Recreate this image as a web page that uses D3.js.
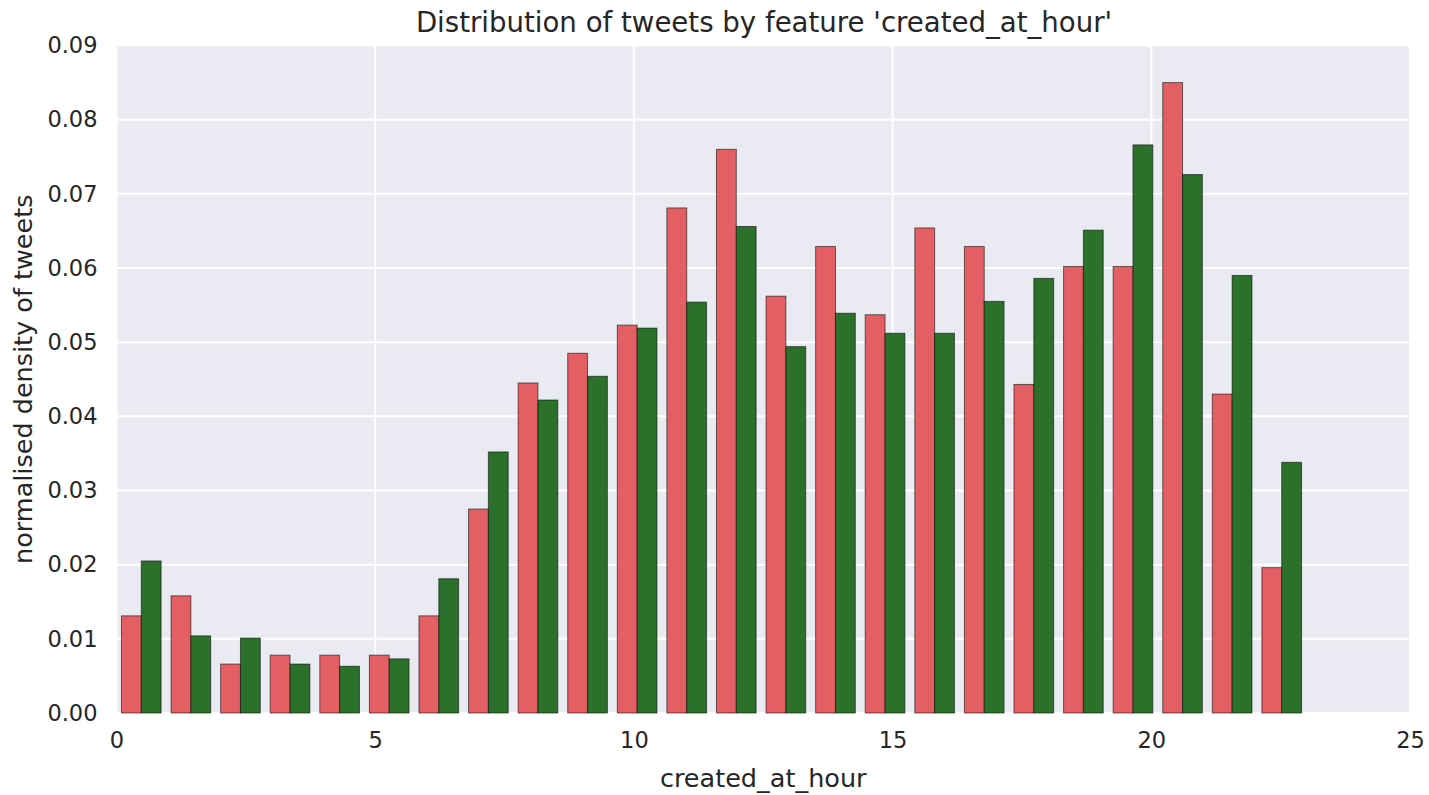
<!DOCTYPE html>
<html><head><meta charset="utf-8">
<script src="https://cdn.jsdelivr.net/npm/d3@7/dist/d3.min.js"></script>
<style>
body{margin:0;background:#fff}
text{font-family:"DejaVu Sans",sans-serif;fill:#262626}
</style>
</head><body>
<svg id="chart" width="1429" height="795"></svg>
<script>
// Histogram of tweet hours: 24 bins over range 0..23
const hours = [0,1,2,3,4,5,6,7,8,9,10,11,12,13,14,15,16,17,18,19,20,21,22,23];
const redValues = [0.0131,0.0158,0.0066,0.0078,0.0078,0.0078,0.0131,0.0275,0.0445,0.0485,0.0523,0.0681,0.0760,0.0562,0.0629,0.0537,0.0654,0.0629,0.0443,0.0602,0.0602,0.0850,0.0430,0.0196];
const greenValues = [0.0205,0.0104,0.0101,0.0066,0.0063,0.0073,0.0181,0.0352,0.0422,0.0454,0.0519,0.0554,0.0656,0.0494,0.0539,0.0512,0.0512,0.0555,0.0586,0.0651,0.0766,0.0726,0.0590,0.0338];
const xTicks = [0,5,10,15,20,25];
const yTicks = [0,0.01,0.02,0.03,0.04,0.05,0.06,0.07,0.08,0.09];
const histMin = 0, histMax = 23, nBins = 24;
const title = "Distribution of tweets by feature 'created_at_hour'";
const xLabel = "created_at_hour";
const yLabel = "normalised density of tweets";

const L = 116.5, R = 1410, T = 45.5, B = 713;
const svg = d3.select("#chart");
const x = d3.scaleLinear().domain([0,25]).range([L,R]);
const y = d3.scaleLinear().domain([0,0.09]).range([B,T]);
const bw = (histMax - histMin) / nBins;

svg.append("rect").attr("x",L).attr("y",T).attr("width",R-L).attr("height",B-T).attr("fill","#eaeaf2");

// grid
svg.append("g").selectAll("line").data(xTicks).join("line")
  .attr("x1",d=>x(d)).attr("x2",d=>x(d)).attr("y1",T).attr("y2",B)
  .attr("stroke","#fff").attr("stroke-width",2);
svg.append("g").selectAll("line").data(yTicks).join("line")
  .attr("x1",L).attr("x2",R).attr("y1",d=>y(d)).attr("y2",d=>y(d))
  .attr("stroke","#fff").attr("stroke-width",2);

// bars
const barW = x(0.4*bw) - x(0);
const series = [
  {vals: redValues, off: 0.1, color: "#e35f63"},
  {vals: greenValues, off: 0.5, color: "#2b702b"}
];
series.forEach(s => {
  svg.append("g").selectAll("rect").data(hours).join("rect")
    .attr("x", (h) => x(histMin + h*bw + s.off*bw))
    .attr("width", barW)
    .attr("y", (h,i) => y(s.vals[i]))
    .attr("height", (h,i) => y(0) - y(s.vals[i]))
    .attr("fill", s.color)
    .attr("stroke", "#000").attr("stroke-opacity", 0.55).attr("stroke-width", 1);
});

// axes
const xAxis = d3.axisBottom(x).tickValues(xTicks).tickFormat(d3.format("d")).tickSize(0).tickPadding(19);
const gx = svg.append("g").attr("transform",`translate(0,${B})`).call(xAxis);
gx.select(".domain").remove();
gx.selectAll("text").style("font-size","22.5px").style("font-family","DejaVu Sans").attr("fill","#262626");

const yAxis = d3.axisLeft(y).tickValues(yTicks).tickFormat(d3.format(".2f")).tickSize(0).tickPadding(19);
const gy = svg.append("g").attr("transform",`translate(${L},0)`).call(yAxis);
gy.select(".domain").remove();
gy.selectAll("text").style("font-size","22.5px").style("font-family","DejaVu Sans").attr("fill","#262626");

svg.append("text").attr("x",764).attr("y",32).attr("text-anchor","middle")
  .style("font-size","27.6px").text(title);
svg.append("text").attr("x",(L+R)/2).attr("y",787).attr("text-anchor","middle")
  .style("font-size","25.5px").text(xLabel);
svg.append("text").attr("transform",`translate(32,${(T+B)/2}) rotate(-90)`).attr("text-anchor","middle")
  .style("font-size","25.5px").text(yLabel);
</script>
</body></html>
